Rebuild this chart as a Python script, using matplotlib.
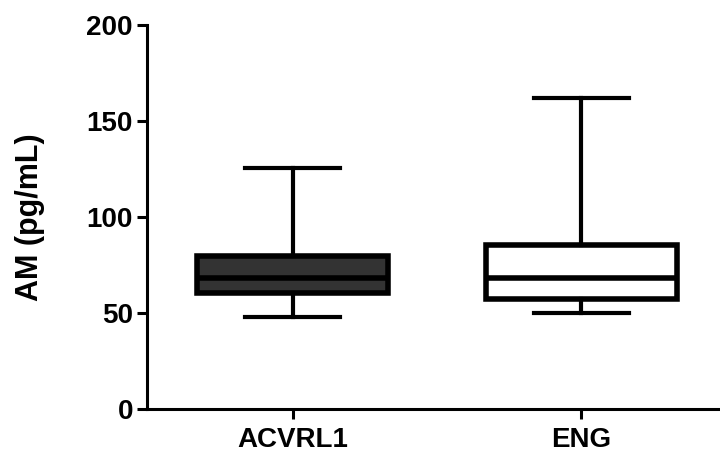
import matplotlib.pyplot as plt

plt.rcParams['font.family'] = ['Liberation Sans', 'DejaVu Sans']
plt.rcParams['font.weight'] = 'bold'

groups = ['ACVRL1', 'ENG']
whis_lo = [48, 50]
q1 = [60.5, 57.5]
medians = [68, 68.5]
q3 = [79.5, 85.5]
whis_hi = [125.5, 162]
fills = ['#333333', 'white']

stats = []
for i, g in enumerate(groups):
    stats.append({'label': g, 'whislo': whis_lo[i], 'q1': q1[i], 'med': medians[i],
                  'q3': q3[i], 'whishi': whis_hi[i]})

fig = plt.figure(figsize=(7.2, 4.55), dpi=100)
ax = fig.add_axes([0.204, 0.101, 0.796, 0.844])

bp = ax.bxp(stats, positions=[1, 2], widths=0.66, capwidths=0.33, showfliers=False,
            patch_artist=True,
            boxprops=dict(linewidth=4, edgecolor='black'),
            medianprops=dict(color='black', linewidth=4),
            whiskerprops=dict(color='black', linewidth=3),
            capprops=dict(color='black', linewidth=3))
for patch, c in zip(bp['boxes'], fills):
    patch.set_facecolor(c)

ax.set_ylim(0, 200)
ax.set_xlim(0.495, 2.48)
ax.set_yticks([0, 50, 100, 150, 200])
ax.set_ylabel('AM (pg/mL)', fontsize=22, fontweight='bold', labelpad=30)
ax.tick_params(axis='both', labelsize=20, width=2.2, length=7)
ax.tick_params(axis='y', pad=3)
ax.tick_params(axis='x', pad=6)
for lab in ax.get_xticklabels() + ax.get_yticklabels():
    lab.set_fontweight('bold')

ax.spines['top'].set_visible(False)
ax.spines['right'].set_visible(False)
ax.spines['left'].set_linewidth(2.2)
ax.spines['bottom'].set_linewidth(2.2)

plt.savefig('out.png')
